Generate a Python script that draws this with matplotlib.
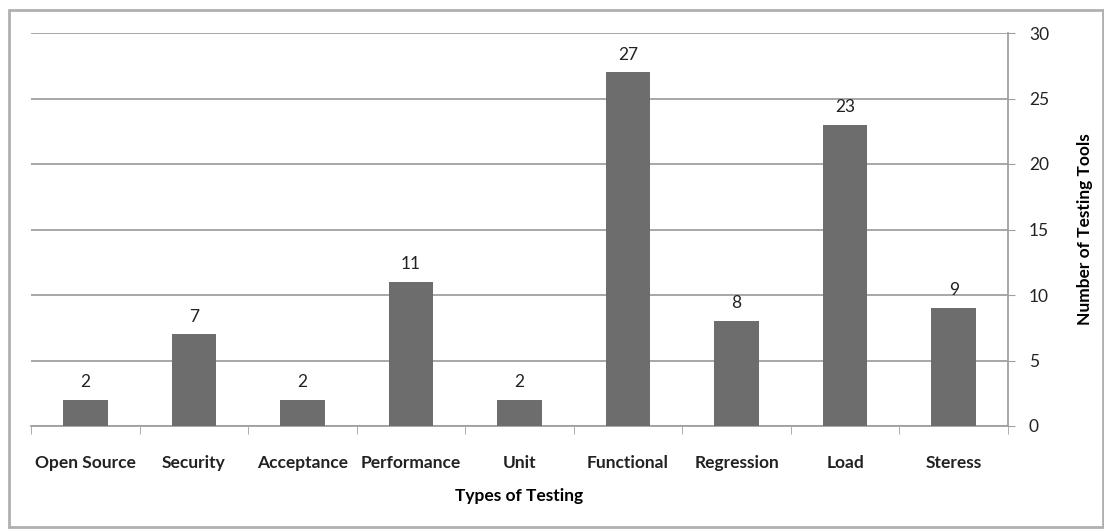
import numpy as np
import matplotlib.pyplot as plt
from matplotlib.patches import Rectangle

categories = ["Open Source", "Security", "Acceptance", "Performance", "Unit",
              "Functional", "Regression", "Load", "Steress"]
counts = [2, 7, 2, 11, 2, 27, 8, 23, 9]
y_ticks = [0, 5, 10, 15, 20, 25, 30]

plt.rcParams['font.family'] = ['Lato', 'DejaVu Sans']

fig = plt.figure(figsize=(11.04, 5.29), dpi=100)
W, H = 1104, 529
ax = fig.add_axes([31 / W, 1 - 426 / H, (1008 - 31) / W, (426 - 33) / H])

x = np.arange(len(categories))
bars = ax.bar(x, counts, width=0.41, color='#6d6d6d', zorder=3)
for b, v in zip(bars, counts):
    ax.annotate(str(v), (b.get_x() + b.get_width() / 2, v), xytext=(0, 7),
                textcoords='offset points', ha='center', va='bottom',
                fontsize=12.5, color='#222222')

ax.set_xlim(-0.5, len(categories) - 0.5)
ax.set_ylim(0, 30)
ax.set_yticks(y_ticks)
ax.yaxis.tick_right()
ax.yaxis.set_label_position('right')
ax.grid(axis='y', color='#a0a0a0', linewidth=1.3, zorder=0)
ax.tick_params(axis='y', length=5, color='#a0a0a0', labelsize=12.5, pad=10,
               labelcolor='#222222')

# category ticks sit between the bars
ax.set_xticks(x)
ax.set_xticklabels(categories, fontsize=12.5, fontweight='bold', color='#222222')
ax.tick_params(axis='x', length=0, pad=21)
ax.set_xticks(np.arange(-0.5, len(categories) + 0.5, 1), minor=True)
ax.tick_params(axis='x', which='minor', length=6, color='#a0a0a0', direction='out')

for side in ['top', 'left']:
    ax.spines[side].set_visible(False)
for side in ['bottom', 'right']:
    ax.spines[side].set_color('#a0a0a0')
    ax.spines[side].set_linewidth(1.3)

ax.set_xlabel("Types of Testing", fontsize=12.5, fontweight='bold', labelpad=12)
ax.set_ylabel("Number of Testing Tools", fontsize=12.5, fontweight='bold', labelpad=20)

# outer chart border
fig.patches.append(Rectangle((9 / W, 1 - 527 / H), (1103 - 9) / W, (527 - 10) / H,
                             transform=fig.transFigure, fill=False,
                             edgecolor='#b0b0b0', linewidth=2))

fig.savefig("out.png", dpi=100)
